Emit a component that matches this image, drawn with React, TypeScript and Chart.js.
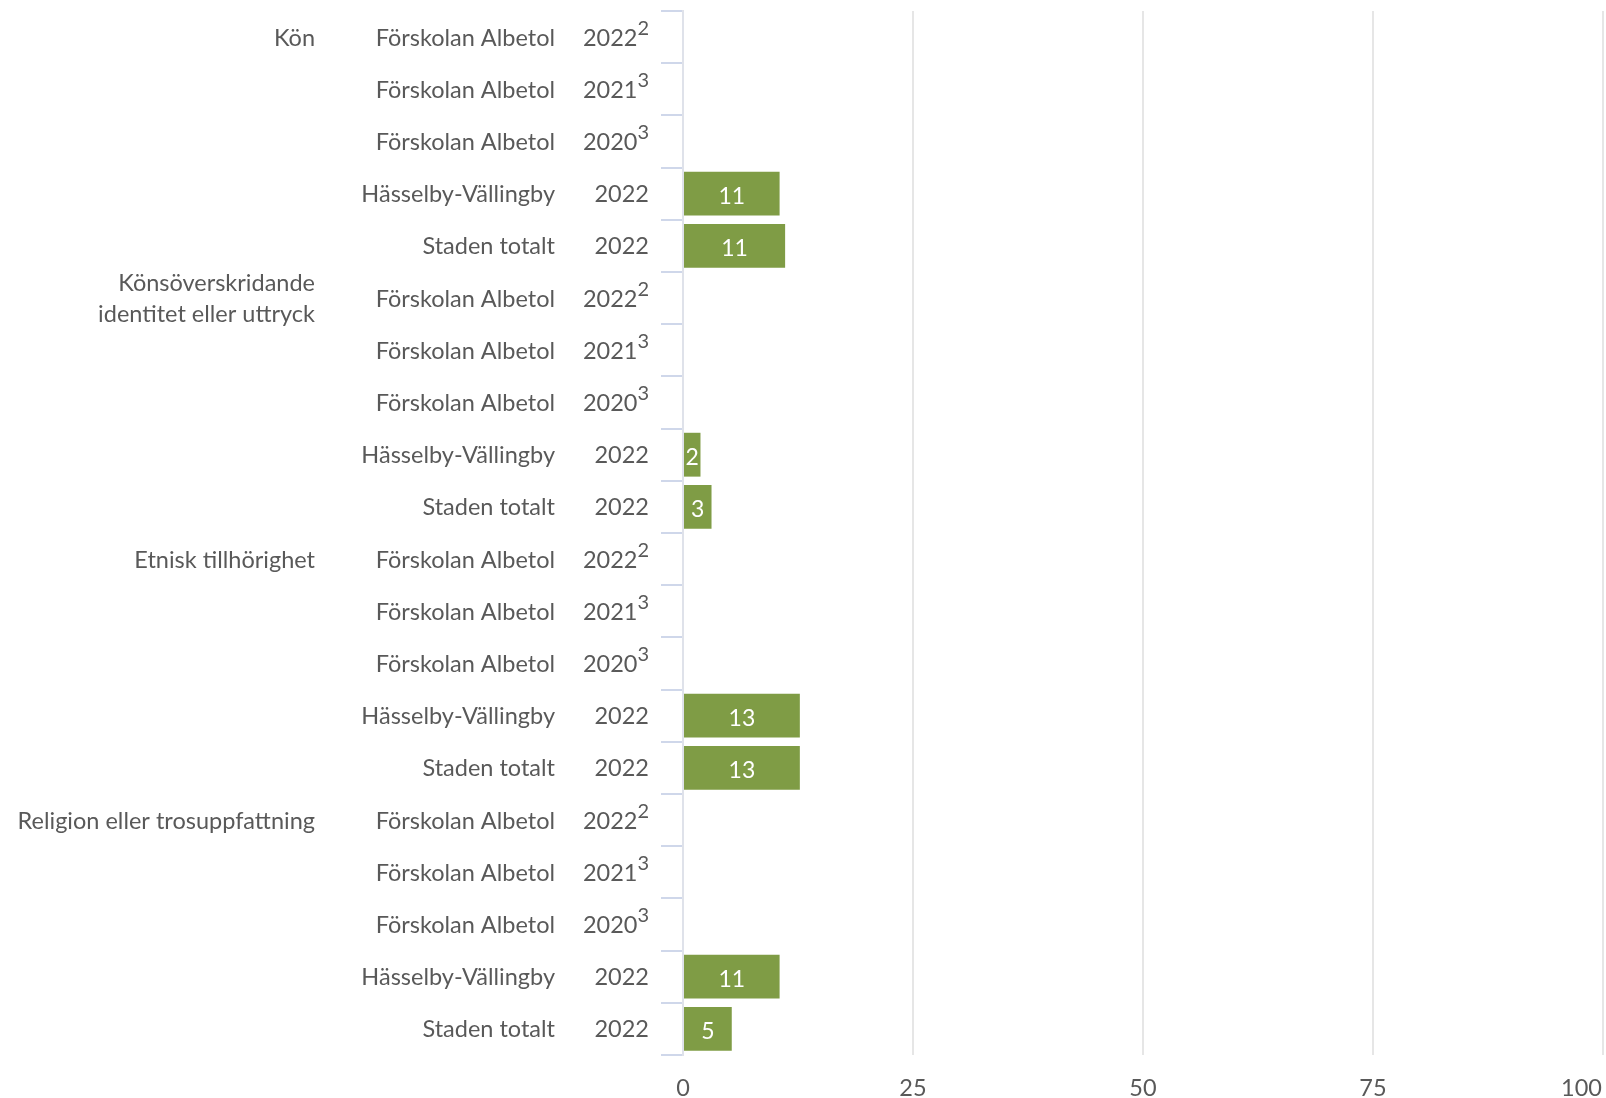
import { useEffect, useRef } from 'react';
import { Chart, registerables } from 'chart.js';

Chart.register(...registerables);

const groupLabels: string[][] = [
  ['Kön'],
  ['Könsöverskridande', 'identitet eller uttryck'],
  ['Etnisk tillhörighet'],
  ['Religion eller trosuppfattning'],
];
const groupStartRows = [0, 5, 10, 15];

const locationLabels = [
  'Förskolan Albetol', 'Förskolan Albetol', 'Förskolan Albetol', 'Hässelby-Vällingby', 'Staden totalt',
  'Förskolan Albetol', 'Förskolan Albetol', 'Förskolan Albetol', 'Hässelby-Vällingby', 'Staden totalt',
  'Förskolan Albetol', 'Förskolan Albetol', 'Förskolan Albetol', 'Hässelby-Vällingby', 'Staden totalt',
  'Förskolan Albetol', 'Förskolan Albetol', 'Förskolan Albetol', 'Hässelby-Vällingby', 'Staden totalt',
];
const yearLabels = [
  '2022', '2021', '2020', '2022', '2022',
  '2022', '2021', '2020', '2022', '2022',
  '2022', '2021', '2020', '2022', '2022',
  '2022', '2021', '2020', '2022', '2022',
];
const yearNotes = [
  '2', '3', '3', '', '',
  '2', '3', '3', '', '',
  '2', '3', '3', '', '',
  '2', '3', '3', '', '',
];
const values: (number | null)[] = [
  null, null, null, 10.5, 11.1,
  null, null, null, 1.9, 3.1,
  null, null, null, 12.7, 12.7,
  null, null, null, 10.5, 5.3,
];
const xTicks = [0, 25, 50, 75, 100];

const FONT = 'Lato, "Open Sans", sans-serif';
const TEXT = '#595959';
const BAR = '#7f9c45';
const FS = 23.5;

const labelPlugin = {
  id: 'rowLabels',
  afterDraw(chart: any) {
    const ctx = chart.ctx as CanvasRenderingContext2D;
    const y = chart.scales.y;
    const x = chart.scales.x;
    ctx.save();
    ctx.fillStyle = TEXT;
    ctx.textAlign = 'right';
    ctx.textBaseline = 'alphabetic';
    const groupX = 315;
    const locX = 555;
    const yearX = 649;
    for (let i = 0; i < locationLabels.length; i++) {
      const cy = y.getPixelForValue(i);
      const base = cy + 8.5;
      ctx.font = `${FS}px ${FONT}`;
      ctx.fillText(locationLabels[i], locX, base);
      let right = yearX;
      if (yearNotes[i]) {
        ctx.font = `20px ${FONT}`;
        const w = ctx.measureText(yearNotes[i]).width;
        ctx.fillText(yearNotes[i], yearX, base - 11);
        right = yearX - w;
      }
      ctx.font = `${FS}px ${FONT}`;
      ctx.fillText(yearLabels[i], right, base);
    }
    ctx.font = `${FS}px ${FONT}`;
    groupLabels.forEach((lines, g) => {
      const cy = y.getPixelForValue(groupStartRows[g]);
      const lh = 31;
      const start = cy - ((lines.length - 1) * lh) / 2;
      lines.forEach((line, k) => {
        ctx.fillText(line, groupX, start + k * lh + 8.5);
      });
    });
    // x tick labels
    const xb = y.bottom + 41;
    xTicks.forEach((v, k) => {
      const px = x.getPixelForValue(v);
      if (k === xTicks.length - 1) {
        ctx.textAlign = 'right';
        ctx.fillText(String(v), px - 1, xb);
      } else {
        ctx.textAlign = 'center';
        ctx.fillText(String(v), px, xb);
      }
    });
    ctx.restore();
  },
  afterDatasetsDraw(chart: any) {
    const ctx = chart.ctx as CanvasRenderingContext2D;
    const meta = chart.getDatasetMeta(0);
    ctx.save();
    ctx.fillStyle = '#ffffff';
    ctx.font = `23px ${FONT}`;
    ctx.textAlign = 'center';
    ctx.textBaseline = 'middle';
    meta.data.forEach((el: any, i: number) => {
      const v = values[i];
      if (v == null) return;
      const cx = (el.x + el.base) / 2;
      ctx.fillText(String(Math.round(v)), cx, el.y + 3);
    });
    ctx.restore();
  },
};

export default function App() {
  const ref = useRef<HTMLCanvasElement>(null);
  useEffect(() => {
    document.body.style.margin = '0';
    const chart = new Chart(ref.current!, {
      type: 'bar',
      data: {
        labels: locationLabels.map((l, i) => `${l} ${yearLabels[i]}`),
        datasets: [
          {
            data: values as any,
            backgroundColor: BAR,
            borderWidth: 0,
            categoryPercentage: 1,
            barPercentage: 0.84,
          },
        ],
      },
      options: {
        indexAxis: 'y',
        animation: false,
        responsive: true,
        maintainAspectRatio: false,
        layout: { padding: { top: 11, right: 3, left: 0, bottom: 0 } },
        plugins: {
          legend: { display: false },
          tooltip: { enabled: false },
        },
        scales: {
          x: {
            min: 0,
            max: 100,
            afterBuildTicks: (scale: any) => {
              scale.ticks = xTicks.map((v) => ({ value: v }));
            },
            afterFit: (scale: any) => {
              scale.height = 43;
              scale.paddingRight = 0;
              scale.paddingLeft = 0;
            },
            ticks: { display: false },
            grid: {
              color: '#e6e6e6',
              lineWidth: 2,
              drawTicks: false,
            },
            border: { display: false },
          },
          y: {
            afterFit: (scale: any) => {
              scale.width = 683;
            },
            ticks: { display: false },
            grid: {
              drawOnChartArea: false,
              drawTicks: true,
              tickLength: 22,
              color: '#cfd7ea',
              lineWidth: 2,
              offset: true,
            },
            border: { display: true, color: '#dfe2ea', width: 2 },
          },
        },
      },
      plugins: [labelPlugin],
    });
    return () => chart.destroy();
  }, []);
  return (
    <div style={{ width: 1606, height: 1098, position: 'relative' }}>
      <canvas ref={ref} style={{ display: 'block' }} />
    </div>
  );
}
